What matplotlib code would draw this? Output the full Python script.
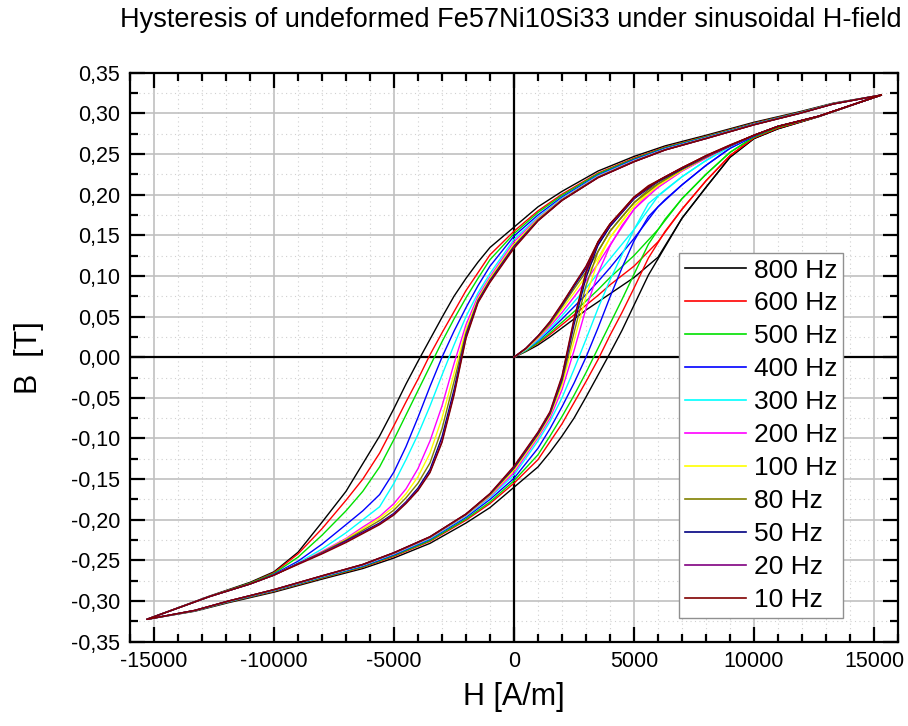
import matplotlib
matplotlib.use("Agg")
import matplotlib.pyplot as plt
from matplotlib.ticker import MultipleLocator, FixedLocator

plt.rcParams['font.family'] = ['Liberation Sans', 'DejaVu Sans']

# ---------------- data ----------------
title = "Hysteresis of undeformed Fe57Ni10Si33 under sinusoidal H-field"
x_label = "H [A/m]"
y_label = "B  [T]"

freq_labels = ["800 Hz", "600 Hz", "500 Hz", "400 Hz", "300 Hz", "200 Hz",
               "100 Hz", "80 Hz", "50 Hz", "20 Hz", "10 Hz"]

x_ticks = [-15000, -10000, -5000, 0, 5000, 10000, 15000]
x_tick_labels = ["-15000", "-10000", "-5000", "0", "5000", "10000", "15000"]
y_ticks = [-0.35, -0.30, -0.25, -0.20, -0.15, -0.10, -0.05, 0.00,
           0.05, 0.10, 0.15, 0.20, 0.25, 0.30, 0.35]
y_tick_labels = ["-0,35", "-0,30", "-0,25", "-0,20", "-0,15", "-0,10", "-0,05", "0,00",
                 "0,05", "0,10", "0,15", "0,20", "0,25", "0,30", "0,35"]

# descending branch H grid (A/m)
H_desc = [15300, 13300, 11900, 10000, 8000, 6300, 5000, 3500, 2000, 1000, 0,
          -1000, -1500, -2000, -2500, -3000, -3500, -4000, -4500, -5000, -5600,
          -6300, -7000, -8000, -9000, -10000, -11000, -12700, -15300]
# ascending branch H grid (A/m)
H_asc = [-15300, -13300, -11900, -10000, -8000, -6300, -5000, -3500, -2000, -1000, 0,
         1000, 1500, 2000, 2500, 3000, 3500, 4000, 4500, 5000, 5600,
         6300, 7000, 8000, 9000, 10000, 11000, 12700, 15300]
# initial magnetisation curve H grid (A/m)
H_init = [0, 500, 1000, 1500, 2000, 2500, 3000, 3500, 4000, 5000, 6000, 7000, 8000]

# B (T) on the descending branch
desc_800 = [0.3225, 0.3125, 0.3020, 0.2890, 0.2730, 0.2600, 0.2470, 0.2290, 0.2040, 0.1850, 0.160, 0.135, 0.117, 0.097, 0.075, 0.049, 0.022, -0.005, -0.033, -0.063, -0.097, -0.131, -0.165, -0.203, -0.240, -0.264, -0.277, -0.2940, -0.3225]
desc_600 = [0.3225, 0.3120, 0.3012, 0.2880, 0.2718, 0.2585, 0.2450, 0.2265, 0.2005, 0.1800, 0.155, 0.126, 0.104, 0.082, 0.056, 0.030, 0.003, -0.027, -0.055, -0.084, -0.118, -0.150, -0.176, -0.211, -0.242, -0.265, -0.278, -0.2944, -0.3225]
desc_500 = [0.3225, 0.3120, 0.3010, 0.2875, 0.2712, 0.2578, 0.2440, 0.2255, 0.1990, 0.1780, 0.152, 0.120, 0.097, 0.073, 0.047, 0.019, -0.011, -0.041, -0.071, -0.101, -0.135, -0.165, -0.189, -0.219, -0.246, -0.266, -0.278, -0.2945, -0.3225]
desc_400 = [0.3225, 0.3118, 0.3006, 0.2870, 0.2705, 0.2570, 0.2430, 0.2240, 0.1970, 0.1750, 0.149, 0.112, 0.088, 0.061, 0.032, 0.000, -0.036, -0.074, -0.110, -0.141, -0.169, -0.189, -0.206, -0.230, -0.251, -0.267, -0.279, -0.2946, -0.3225]
desc_300 = [0.3225, 0.3117, 0.3004, 0.2866, 0.2700, 0.2562, 0.2420, 0.2230, 0.1955, 0.1725, 0.145, 0.103, 0.079, 0.050, 0.015, -0.022, -0.060, -0.095, -0.126, -0.155, -0.184, -0.200, -0.216, -0.236, -0.253, -0.268, -0.279, -0.2946, -0.3225]
desc_200 = [0.3225, 0.3116, 0.3002, 0.2864, 0.2696, 0.2557, 0.2415, 0.2222, 0.1945, 0.1710, 0.142, 0.099, 0.075, 0.040, -0.008, -0.060, -0.103, -0.137, -0.162, -0.180, -0.196, -0.209, -0.223, -0.239, -0.254, -0.268, -0.279, -0.2946, -0.3225]
desc_100 = [0.3225, 0.3116, 0.3001, 0.2862, 0.2694, 0.2554, 0.2411, 0.2218, 0.1940, 0.1700, 0.139, 0.097, 0.072, 0.034, -0.020, -0.075, -0.118, -0.147, -0.168, -0.184, -0.198, -0.211, -0.224, -0.240, -0.254, -0.268, -0.279, -0.2946, -0.3225]
desc_80 = [0.3225, 0.3115, 0.3000, 0.2861, 0.2692, 0.2552, 0.2408, 0.2214, 0.1935, 0.1690, 0.137, 0.095, 0.070, 0.030, -0.030, -0.088, -0.130, -0.155, -0.173, -0.188, -0.201, -0.213, -0.225, -0.240, -0.254, -0.268, -0.279, -0.2946, -0.3225]
desc_50 = [0.3225, 0.3115, 0.3000, 0.2860, 0.2691, 0.2551, 0.2406, 0.2211, 0.1932, 0.1683, 0.136, 0.094, 0.069, 0.027, -0.040, -0.098, -0.138, -0.161, -0.178, -0.192, -0.204, -0.215, -0.226, -0.241, -0.254, -0.268, -0.279, -0.2946, -0.3225]
desc_20 = [0.3225, 0.3115, 0.3000, 0.2860, 0.2690, 0.2550, 0.2405, 0.2210, 0.1930, 0.1680, 0.135, 0.093, 0.068, 0.025, -0.045, -0.103, -0.141, -0.163, -0.179, -0.193, -0.205, -0.216, -0.227, -0.241, -0.254, -0.268, -0.279, -0.2946, -0.3225]
desc_10 = [0.3225, 0.3115, 0.3000, 0.2859, 0.2689, 0.2549, 0.2404, 0.2208, 0.1928, 0.1677, 0.134, 0.092, 0.067, 0.023, -0.047, -0.105, -0.142, -0.164, -0.180, -0.194, -0.206, -0.217, -0.228, -0.242, -0.255, -0.268, -0.279, -0.2946, -0.3225]

# B (T) on the ascending branch
asc_800 = [-0.3225, -0.3125, -0.3020, -0.2890, -0.2730, -0.2600, -0.2470, -0.2290, -0.2040, -0.1850, -0.160, -0.135, -0.117, -0.097, -0.075, -0.049, -0.022, 0.005, 0.033, 0.064, 0.101, 0.136, 0.171, 0.209, 0.246, 0.269, 0.281, 0.2960, 0.3225]
asc_600 = [-0.3225, -0.3120, -0.3012, -0.2880, -0.2718, -0.2585, -0.2450, -0.2265, -0.2005, -0.1800, -0.155, -0.126, -0.104, -0.082, -0.056, -0.030, -0.003, 0.027, 0.055, 0.085, 0.122, 0.155, 0.182, 0.217, 0.248, 0.270, 0.282, 0.2962, 0.3225]
asc_500 = [-0.3225, -0.3120, -0.3010, -0.2875, -0.2712, -0.2578, -0.2440, -0.2255, -0.1990, -0.1780, -0.152, -0.120, -0.097, -0.073, -0.047, -0.019, 0.011, 0.041, 0.071, 0.102, 0.139, 0.170, 0.195, 0.225, 0.252, 0.271, 0.283, 0.2963, 0.3225]
asc_400 = [-0.3225, -0.3118, -0.3006, -0.2870, -0.2705, -0.2570, -0.2430, -0.2240, -0.1970, -0.1750, -0.149, -0.112, -0.088, -0.061, -0.032, 0.000, 0.036, 0.074, 0.110, 0.143, 0.173, 0.194, 0.212, 0.236, 0.257, 0.272, 0.284, 0.2964, 0.3225]
asc_300 = [-0.3225, -0.3117, -0.3004, -0.2866, -0.2700, -0.2562, -0.2420, -0.2230, -0.1955, -0.1725, -0.145, -0.103, -0.079, -0.050, -0.015, 0.022, 0.060, 0.095, 0.126, 0.157, 0.189, 0.206, 0.222, 0.242, 0.259, 0.273, 0.284, 0.2965, 0.3225]
asc_200 = [-0.3225, -0.3116, -0.3002, -0.2864, -0.2696, -0.2557, -0.2415, -0.2222, -0.1945, -0.1710, -0.142, -0.099, -0.075, -0.040, 0.008, 0.060, 0.103, 0.137, 0.162, 0.182, 0.201, 0.215, 0.229, 0.245, 0.260, 0.273, 0.284, 0.2965, 0.3225]
asc_100 = [-0.3225, -0.3116, -0.3001, -0.2862, -0.2694, -0.2554, -0.2411, -0.2218, -0.1940, -0.1700, -0.139, -0.097, -0.072, -0.034, 0.020, 0.075, 0.118, 0.147, 0.168, 0.186, 0.203, 0.217, 0.230, 0.246, 0.260, 0.273, 0.284, 0.2965, 0.3225]
asc_80 = [-0.3225, -0.3115, -0.3000, -0.2861, -0.2692, -0.2552, -0.2408, -0.2214, -0.1935, -0.1690, -0.137, -0.095, -0.070, -0.030, 0.030, 0.088, 0.130, 0.155, 0.173, 0.190, 0.206, 0.219, 0.231, 0.246, 0.260, 0.273, 0.284, 0.2965, 0.3225]
asc_50 = [-0.3225, -0.3115, -0.3000, -0.2860, -0.2691, -0.2551, -0.2406, -0.2211, -0.1932, -0.1683, -0.136, -0.094, -0.069, -0.027, 0.040, 0.098, 0.138, 0.161, 0.178, 0.195, 0.209, 0.221, 0.232, 0.247, 0.260, 0.273, 0.284, 0.2965, 0.3225]
asc_20 = [-0.3225, -0.3115, -0.3000, -0.2860, -0.2690, -0.2550, -0.2405, -0.2210, -0.1930, -0.1680, -0.135, -0.093, -0.068, -0.025, 0.045, 0.103, 0.141, 0.163, 0.179, 0.196, 0.210, 0.222, 0.233, 0.247, 0.260, 0.273, 0.284, 0.2965, 0.3225]
asc_10 = [-0.3225, -0.3115, -0.3000, -0.2859, -0.2689, -0.2549, -0.2404, -0.2208, -0.1928, -0.1677, -0.134, -0.092, -0.067, -0.023, 0.047, 0.105, 0.142, 0.164, 0.180, 0.197, 0.211, 0.222, 0.233, 0.248, 0.261, 0.273, 0.284, 0.2965, 0.3225]

# B (T) on the initial magnetisation curve
init_800 = [0, 0.007, 0.015, 0.025, 0.036, 0.047, 0.058, 0.068, 0.078, 0.098, 0.123, 0.171, 0.209]
init_600 = [0, 0.008, 0.017, 0.028, 0.040, 0.052, 0.064, 0.076, 0.089, 0.112, 0.142, 0.182, 0.217]
init_500 = [0, 0.008, 0.018, 0.030, 0.043, 0.056, 0.069, 0.083, 0.098, 0.125, 0.157, 0.195, 0.225]
init_400 = [0, 0.009, 0.020, 0.033, 0.047, 0.062, 0.077, 0.093, 0.110, 0.146, 0.185, 0.212, 0.236]
init_300 = [0, 0.009, 0.021, 0.035, 0.051, 0.068, 0.085, 0.103, 0.121, 0.157, 0.198, 0.222, 0.242]
init_200 = [0, 0.010, 0.023, 0.038, 0.055, 0.074, 0.094, 0.115, 0.138, 0.182, 0.209, 0.229, 0.245]
init_100 = [0, 0.010, 0.024, 0.040, 0.059, 0.079, 0.100, 0.122, 0.147, 0.186, 0.211, 0.230, 0.246]
init_80 = [0, 0.011, 0.025, 0.041, 0.062, 0.084, 0.105, 0.130, 0.155, 0.190, 0.213, 0.231, 0.246]
init_50 = [0, 0.011, 0.026, 0.043, 0.064, 0.087, 0.109, 0.138, 0.161, 0.195, 0.216, 0.232, 0.247]
init_20 = [0, 0.011, 0.026, 0.043, 0.065, 0.089, 0.111, 0.141, 0.163, 0.196, 0.217, 0.233, 0.247]
init_10 = [0, 0.011, 0.026, 0.044, 0.066, 0.089, 0.112, 0.142, 0.164, 0.197, 0.217, 0.233, 0.248]

desc_all = [desc_800, desc_600, desc_500, desc_400, desc_300, desc_200, desc_100, desc_80, desc_50, desc_20, desc_10]
asc_all = [asc_800, asc_600, asc_500, asc_400, asc_300, asc_200, asc_100, asc_80, asc_50, asc_20, asc_10]
init_all = [init_800, init_600, init_500, init_400, init_300, init_200, init_100, init_80, init_50, init_20, init_10]

colors = ["#000000", "#ff0000", "#00e000", "#0000ff", "#00ffff", "#ff00ff",
          "#ffff00", "#808000", "#000080", "#800080", "#800000"]

# ---------------- figure ----------------
W, Hpx = 908, 726
fig = plt.figure(figsize=(W / 100, Hpx / 100), dpi=100)
ax_l, ax_r, ax_t, ax_b = 130, 898, 72.7, 641.7
ax = fig.add_axes([ax_l / W, 1 - ax_b / Hpx, (ax_r - ax_l) / W, (ax_b - ax_t) / Hpx])

ax.set_xlim(-16000, 16000)
ax.set_ylim(-0.35, 0.35)

# grid
ax.xaxis.set_major_locator(FixedLocator(x_ticks))
ax.yaxis.set_major_locator(FixedLocator(y_ticks))
ax.xaxis.set_minor_locator(MultipleLocator(1000))
ax.yaxis.set_minor_locator(MultipleLocator(0.025))
ax.grid(which='major', color='#c0c0c0', linewidth=1.2, zorder=0)
ax.grid(which='minor', color='#d0d0d0', linewidth=0.8, linestyle=(0, (1, 3)), zorder=0)
ax.set_axisbelow(True)

ax.axhline(0, color='black', linewidth=1.6, zorder=1)
ax.axvline(0, color='black', linewidth=1.6, zorder=1)

n_tail = 5  # last points of the ascending branch (9000 ... 15300 A/m)
for i in range(len(freq_labels)):
    c = colors[i]
    # initial curve joins the loop tip through the ascending-branch end points
    ax.plot(H_init + H_asc[-n_tail:], init_all[i] + asc_all[i][-n_tail:],
            color=c, linewidth=1.0, zorder=2 + i)
    ax.plot(H_desc + H_asc, desc_all[i] + asc_all[i], color=c, linewidth=1.0,
            zorder=2 + i, label=freq_labels[i])

ax.set_xticks(x_ticks)
ax.set_xticklabels(x_tick_labels)
ax.set_yticks(y_ticks)
ax.set_yticklabels(y_tick_labels)

ax.tick_params(which='both', direction='in', top=True, right=True, width=1.6,
               labelsize=15.5, pad=7, color='black')
ax.tick_params(which='major', length=11)
ax.tick_params(which='minor', length=6)
for s in ax.spines.values():
    s.set_linewidth(1.6)

ax.set_xlabel(x_label, fontsize=22)
ax.set_ylabel(y_label, fontsize=22)
ax.xaxis.set_label_coords(0.5, (641.7 - 682) / 569)
ax.yaxis.set_label_coords((44 - 130) / 768, 0.5)

fig.text(510.5 / W, 1 - 20 / Hpx, title, ha='center', va='center', fontsize=19.5)

leg = ax.legend(loc='upper right', bbox_to_anchor=(843.3 / W, 1 - 252.7 / Hpx),
                bbox_transform=fig.transFigure, borderaxespad=0, fontsize=19,
                frameon=True, fancybox=False, edgecolor='#909090', framealpha=1,
                handlelength=2.3, handletextpad=0.3, labelspacing=0.34,
                borderpad=0.22)
leg.get_frame().set_linewidth(1.0)
for line in leg.get_lines():
    line.set_linewidth(1.2)

fig.savefig("out.png", dpi=100)
